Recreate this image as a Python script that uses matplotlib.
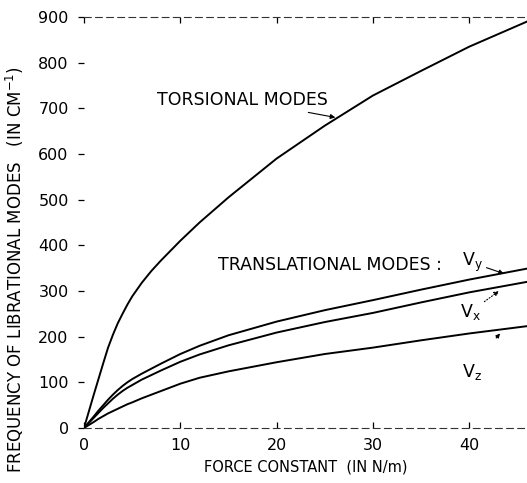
import matplotlib
matplotlib.use("Agg")
from matplotlib import pyplot as plt

# Force constant (N/m) at which the curves were read
FORCE = [0, 1, 1.5, 2, 2.5, 3, 3.5, 4, 4.5, 5, 6, 7, 8, 10, 12, 15, 20, 25, 30, 35, 40, 46]

# Frequencies (cm^-1)
TORSIONAL = [0, 72, 107, 142, 176, 204, 229, 250, 270, 288, 318, 344, 367, 410, 450, 505, 590, 662, 728, 782, 835, 890]
V_Y = [0, 25, 38, 50, 62, 73, 83, 92, 100, 107, 119, 130, 141, 162, 180, 203, 233, 258, 280, 303, 325, 349]
V_X = [0, 22, 33, 44, 54, 64, 73, 81, 88, 94, 106, 116, 126, 145, 161, 181, 209, 232, 252, 275, 297, 320]
V_Z = [0, 13, 20, 26, 32, 37, 42, 47, 52, 56, 65, 73, 81, 97, 110, 124, 144, 162, 176, 192, 207, 223]

X_TICKS = [0, 10, 20, 30, 40]
Y_TICKS = [0, 100, 200, 300, 400, 500, 600, 700, 800, 900]

plt.rcParams['font.family'] = ['DejaVu Sans']

fig = plt.figure(figsize=(5.27, 4.83), dpi=100)
ax = fig.add_axes([84 / 527, 1 - 428 / 483, 1 - 84 / 527, (428 - 17) / 483])

for series in (TORSIONAL, V_Y, V_X, V_Z):
    ax.plot(FORCE, series, color="black", linewidth=1.4, solid_joinstyle="round")

ax.set_xlim(0, 46)
ax.set_ylim(0, 900)
ax.set_xticks(X_TICKS)
ax.set_yticks(Y_TICKS)
ax.tick_params(axis="both", labelsize=11.5, length=4, width=0.9)
ax.tick_params(axis="x", direction="in", top=True, pad=7)
ax.tick_params(axis="y", direction="out", pad=7)

# faded, broken frame like the scan
for side in ("left", "right"):
    ax.spines[side].set_visible(False)
for side in ("top", "bottom"):
    ax.spines[side].set_linestyle((0, (6, 4)))
    ax.spines[side].set_linewidth(0.8)
    ax.spines[side].set_color("#333333")

ax.set_xlabel("FORCE CONSTANT  (IN N/m)", fontsize=10.5, labelpad=5)
fig.text(15 / 527, 1 - 270 / 483, "FREQUENCY OF LIBRATIONAL MODES   (IN CM$^{-1}$)",
         rotation=90, ha="center", va="center", fontsize=12)

# annotations
ax.annotate("TORSIONAL MODES", xy=(26.1, 680), xytext=(7.6, 718),
            fontsize=12.5, va="center",
            arrowprops=dict(arrowstyle="-|>", color="black", lw=0.8,
                            shrinkA=2, shrinkB=0, mutation_scale=7))
ax.text(13.9, 357, "TRANSLATIONAL MODES :", fontsize=12.5, va="center")
ax.annotate(r"$\mathrm{V_y}$", xy=(43.6, 338), xytext=(39.2, 362),
            fontsize=12.5, va="center",
            arrowprops=dict(arrowstyle="-|>", color="black", lw=0.8,
                            shrinkA=1, shrinkB=0, mutation_scale=7))
ax.annotate(r"$\mathrm{V_x}$", xy=(43.1, 300), xytext=(39.0, 254),
            fontsize=12.5, va="center",
            arrowprops=dict(arrowstyle="-|>", color="black", lw=0.8, linestyle=":",
                            shrinkA=1, shrinkB=0, mutation_scale=7))
ax.text(39.2, 123, r"$\mathrm{V_z}$", fontsize=12.5, va="center")
ax.annotate("", xy=(43.2, 207), xytext=(42.8, 197),
            arrowprops=dict(arrowstyle="-|>", color="black", lw=0.8,
                            shrinkA=0, shrinkB=0, mutation_scale=6))

fig.savefig("out.png", dpi=100)
